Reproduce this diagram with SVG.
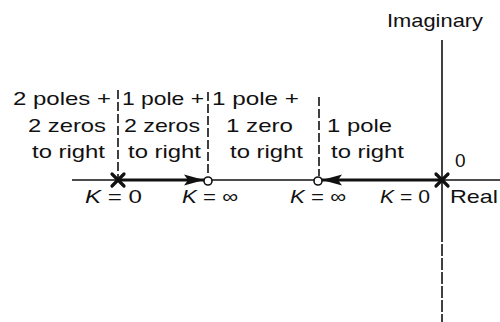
<svg xmlns="http://www.w3.org/2000/svg" width="500" height="322" viewBox="0 0 500 322">
<style>
text{font-family:"Liberation Sans",Arial,sans-serif;font-size:19px;fill:#111}
.ax{stroke:#111;stroke-width:1.6;fill:none}
.sep{stroke:#111;stroke-width:1.6;stroke-dasharray:9 3;fill:none}
.locus{stroke:#111;stroke-width:3.2;fill:none}
.pole{stroke:#111;stroke-width:3.2;stroke-linecap:round}
.zero{stroke:#111;stroke-width:1.6;fill:#fff}
.k{font-style:italic}
</style>
<defs>
<marker id="ah" markerUnits="userSpaceOnUse" markerWidth="20" markerHeight="12" refX="20" refY="6" orient="auto">
<path d="M0,0.5 L20,6 L0,11.5 L4,6 z" fill="#111"/>
</marker>
</defs>
<rect width="500" height="322" fill="#fff"/>
<g id="axes">
<line class="ax" x1="72" y1="180" x2="500" y2="180"/>
<line class="ax" x1="442" y1="40" x2="442" y2="230"/>
<line class="ax" x1="442" y1="230" x2="442" y2="322" stroke-dasharray="12 2"/>
<text x="387" y="27" textLength="96" lengthAdjust="spacingAndGlyphs">Imaginary</text>
<text x="455" y="167">0</text>
<text x="450" y="203" textLength="48" lengthAdjust="spacingAndGlyphs">Real</text>
</g>
<g id="separators">
<line class="sep" x1="118" y1="90" x2="118" y2="178"/>
<line class="sep" x1="208" y1="92" x2="208" y2="176"/>
<line class="sep" x1="319" y1="97" x2="319" y2="176"/>
</g>
<g id="connectors">
<line class="locus" x1="118" y1="180" x2="204" y2="180" marker-end="url(#ah)"/>
<line class="locus" x1="442" y1="180" x2="322" y2="180" marker-end="url(#ah)"/>
</g>
<g id="pole1">
<line class="pole" x1="112" y1="174" x2="124" y2="186"/>
<line class="pole" x1="124" y1="174" x2="112" y2="186"/>
<text x="85" y="203" textLength="57" lengthAdjust="spacingAndGlyphs"><tspan class="k">K</tspan> = 0</text>
</g>
<g id="zero1">
<circle class="zero" cx="208" cy="181" r="4"/>
<text x="182" y="203" textLength="56" lengthAdjust="spacingAndGlyphs"><tspan class="k">K</tspan> = ∞</text>
</g>
<g id="zero2">
<circle class="zero" cx="318" cy="181" r="4"/>
<text x="290" y="203" textLength="56" lengthAdjust="spacingAndGlyphs"><tspan class="k">K</tspan> = ∞</text>
</g>
<g id="pole2">
<line class="pole" x1="436" y1="174" x2="448" y2="186"/>
<line class="pole" x1="448" y1="174" x2="436" y2="186"/>
<text x="380" y="203" textLength="50" lengthAdjust="spacingAndGlyphs"><tspan class="k">K</tspan> = 0</text>
</g>
<g id="region1">
<text x="13" y="105" textLength="98" lengthAdjust="spacingAndGlyphs">2 poles +</text>
<text x="28" y="132" textLength="78" lengthAdjust="spacingAndGlyphs">2 zeros</text>
<text x="32" y="158" textLength="73" lengthAdjust="spacingAndGlyphs">to right</text>
</g>
<g id="region2">
<text x="122" y="105" textLength="82" lengthAdjust="spacingAndGlyphs">1 pole +</text>
<text x="124" y="132" textLength="76" lengthAdjust="spacingAndGlyphs">2 zeros</text>
<text x="128" y="158" textLength="73" lengthAdjust="spacingAndGlyphs">to right</text>
</g>
<g id="region3">
<text x="212" y="105" textLength="87" lengthAdjust="spacingAndGlyphs">1 pole +</text>
<text x="226" y="132" textLength="67" lengthAdjust="spacingAndGlyphs">1 zero</text>
<text x="230" y="158" textLength="73" lengthAdjust="spacingAndGlyphs">to right</text>
</g>
<g id="region4">
<text x="327" y="132" textLength="65" lengthAdjust="spacingAndGlyphs">1 pole</text>
<text x="331" y="158" textLength="73" lengthAdjust="spacingAndGlyphs">to right</text>
</g>
</svg>
